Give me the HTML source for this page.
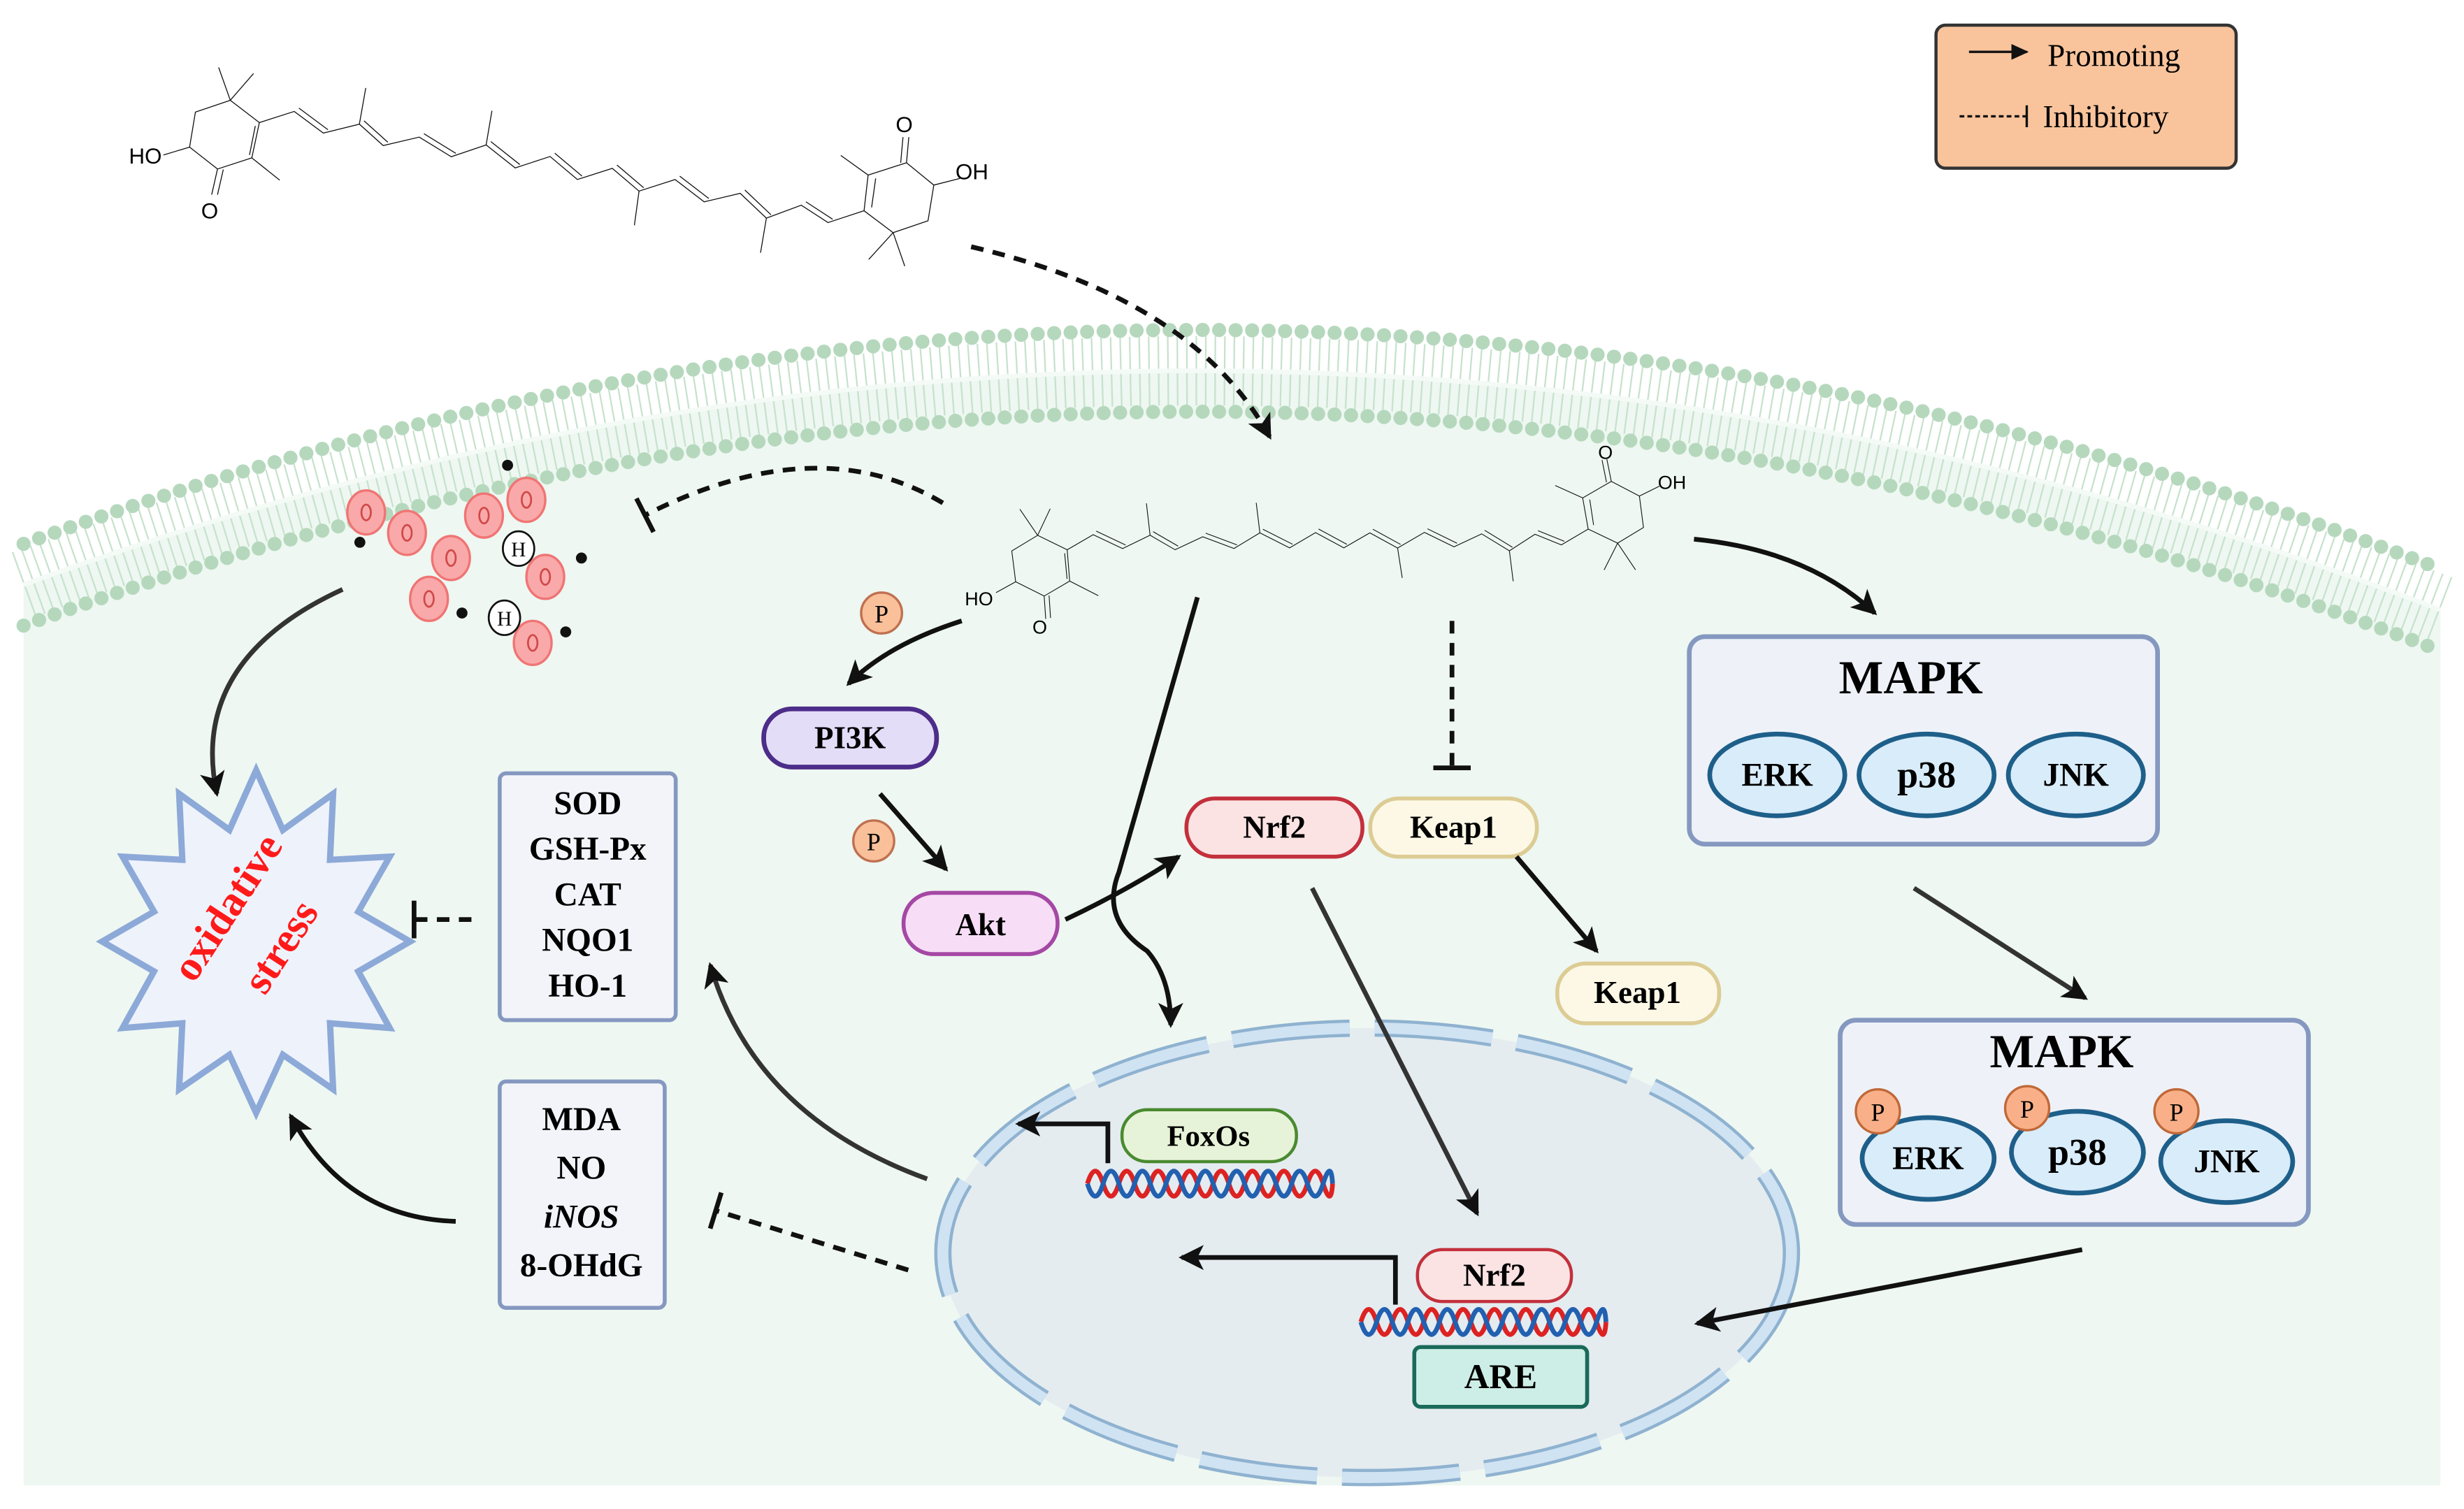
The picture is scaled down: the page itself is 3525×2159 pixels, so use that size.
<!DOCTYPE html>
<html><head><meta charset="utf-8">
<style>
html,body{margin:0;padding:0;background:#fff;}
svg{display:block;}
text{font-family:"Liberation Serif",serif;}
</style></head>
<body>
<svg width="3525" height="2159" viewBox="0 0 1568 960" preserveAspectRatio="none" xmlns="http://www.w3.org/2000/svg">
<defs>
<marker id="ah" markerUnits="userSpaceOnUse" markerWidth="22" markerHeight="22" refX="14" refY="8" orient="auto">
<path d="M0,0 L16,8 L0,16 L4,8 Z" fill="#111"/>
</marker>
<marker id="ahs" markerUnits="userSpaceOnUse" markerWidth="16" markerHeight="12" refX="10" refY="5" orient="auto">
<path d="M0,0 L11,5 L0,10 Z" fill="#111"/>
</marker>
<marker id="bar" markerUnits="userSpaceOnUse" markerWidth="6" markerHeight="24" refX="3" refY="12" orient="auto">
<rect x="1" y="0" width="3" height="24" fill="#111"/>
</marker>
<marker id="bars" markerUnits="userSpaceOnUse" markerWidth="4" markerHeight="14" refX="2" refY="7" orient="auto">
<rect x="1" y="0" width="1.5" height="14" fill="#111"/>
</marker>
</defs>

<!-- cell interior -->
<path d="M15,372 Q784,92 1553,388 L1553,945 L15,945 Z" fill="#eef7f1"/>
<!-- membrane tails -->
<path d="M15,372 Q784,92 1553,388" fill="none" stroke="#c6e2cc" stroke-width="44" stroke-dasharray="1 5"/>
<path d="M15,372 Q784,92 1553,388" fill="none" stroke="#f4faf5" stroke-width="3"/>
<!-- heads -->
<path d="M15,346 Q784,66 1553,362" fill="none" stroke="#b5d8bd" stroke-width="9" stroke-linecap="round" stroke-dasharray="0 10.5"/>
<path d="M15,398 Q784,118 1553,414" fill="none" stroke="#b5d8bd" stroke-width="9" stroke-linecap="round" stroke-dasharray="0 10.5"/>

<!-- nucleus -->
<ellipse cx="870" cy="797" rx="270" ry="143" fill="#e4ecf0"/>
<ellipse cx="870" cy="797" rx="270" ry="143" fill="none" stroke="#8fb2d0" stroke-width="11" stroke-dasharray="75 16"/>
<ellipse cx="870" cy="797" rx="270" ry="143" fill="none" stroke="#cfe3f3" stroke-width="7" stroke-dasharray="75 16"/>

<!-- legend -->
<rect x="1232" y="16" width="191" height="91" rx="6" fill="#f9c49c" stroke="#333" stroke-width="2"/>
<line x1="1253" y1="33" x2="1290" y2="33" stroke="#111" stroke-width="1.5" marker-end="url(#ahs)"/>
<text x="1303" y="42" font-size="20">Promoting</text>
<line x1="1247" y1="74" x2="1290" y2="74" stroke="#111" stroke-width="1.5" stroke-dasharray="3 2" marker-end="url(#bars)"/>
<text x="1300" y="81" font-size="20">Inhibitory</text>

<!-- top molecule -->
<g transform="matrix(0.37,0,0,0.142,67,29)" fill="none" stroke="#111" stroke-width="1.3">
<path vector-effect="non-scaling-stroke" d="M265,345 L325,295 L375,392 L437,352 L478,448 L540,410 L595,498 L655,445 L705,548 L765,497 L812,600 L872,550 L918,652 L980,600 L1030,700 L1092,662 L1137,773 L1197,715 L1243,793 L1305,740"/>
<path vector-effect="non-scaling-stroke" d="M333,280 L383,377 M445,337 L486,433 M548,395 L603,483 M663,430 L713,533 M773,482 L820,585 M880,535 L926,637 M988,585 L1038,685 M1100,647 L1145,758 M1205,700 L1251,778"/>
<path vector-effect="non-scaling-stroke" d="M437,352 L448,190 M655,445 L665,292 M918,652 L910,805 M1137,773 L1127,928"/>
<path vector-effect="non-scaling-stroke" d="M215,245 L195,98 M215,245 L255,125 M215,245 L155,298 L145,455 L193,553 L252,503 L265,345 Z M145,455 L100,490 M193,553 L183,668 M203,555 L193,668 M252,503 L300,603 M248,490 L258,360"/>
<path vector-effect="non-scaling-stroke" d="M1305,740 L1312,580 L1378,525 L1425,625 L1415,785 L1355,838 Z M1312,580 L1265,492 M1378,525 L1382,410 M1368,525 L1372,410 M1425,625 L1470,595 M1355,838 L1313,958 M1355,838 L1375,988 M1318,725 L1325,595"/>
</g>
<text x="82" y="104" font-size="14" font-family="Liberation Sans,sans-serif" style="font-family:'Liberation Sans',sans-serif">HO</text>
<text x="128" y="139" font-size="14" style="font-family:'Liberation Sans',sans-serif">O</text>
<text x="570" y="84" font-size="14" style="font-family:'Liberation Sans',sans-serif">O</text>
<text x="608" y="114" font-size="14" style="font-family:'Liberation Sans',sans-serif">OH</text>

<!-- middle molecule -->
<g transform="matrix(0.3054,-0.0587,0.0353,0.1212,586,323.5)" fill="none" stroke="#111" stroke-width="1.1">
<path vector-effect="non-scaling-stroke" d="M265,345 L325,295 L375,392 L437,352 L478,448 L540,410 L595,498 L655,445 L705,548 L765,497 L812,600 L872,550 L918,652 L980,600 L1030,700 L1092,662 L1137,773 L1197,715 L1243,793 L1305,740"/>
<path vector-effect="non-scaling-stroke" d="M333,280 L383,377 M445,337 L486,433 M548,395 L603,483 M663,430 L713,533 M773,482 L820,585 M880,535 L926,637 M988,585 L1038,685 M1100,647 L1145,758 M1205,700 L1251,778"/>
<path vector-effect="non-scaling-stroke" d="M437,352 L448,190 M655,445 L665,292 M918,652 L910,805 M1137,773 L1127,928"/>
<path vector-effect="non-scaling-stroke" d="M215,245 L195,98 M215,245 L255,125 M215,245 L155,298 L145,455 L193,553 L252,503 L265,345 Z M145,455 L100,490 M193,553 L183,668 M203,555 L193,668 M252,503 L300,603 M248,490 L258,360"/>
<path vector-effect="non-scaling-stroke" d="M1305,740 L1312,580 L1378,525 L1425,625 L1415,785 L1355,838 Z M1312,580 L1265,492 M1378,525 L1382,410 M1368,525 L1372,410 M1425,625 L1470,595 M1355,838 L1313,958 M1355,838 L1375,988 M1318,725 L1325,595"/>
</g>
<text x="614" y="385" font-size="12" style="font-family:'Liberation Sans',sans-serif">HO</text>
<text x="657" y="403" font-size="12" style="font-family:'Liberation Sans',sans-serif">O</text>
<text x="1017" y="292" font-size="12" style="font-family:'Liberation Sans',sans-serif">O</text>
<text x="1055" y="311" font-size="12" style="font-family:'Liberation Sans',sans-serif">OH</text>

<!-- ROS -->
<g fill="#f9a9a9" stroke="#f07474" stroke-width="1.5">
<ellipse cx="233" cy="326" rx="12" ry="14"/><ellipse cx="259" cy="339" rx="12" ry="14"/>
<ellipse cx="308" cy="328" rx="12" ry="14"/><ellipse cx="335" cy="318" rx="12" ry="14"/>
<ellipse cx="287" cy="355" rx="12" ry="14"/><ellipse cx="347" cy="367" rx="12" ry="14"/>
<ellipse cx="273" cy="381" rx="12" ry="14"/><ellipse cx="339" cy="409" rx="12" ry="14"/>
</g>
<g fill="none" stroke="#d04848" stroke-width="1.2">
<ellipse cx="233" cy="326" rx="3" ry="5"/><ellipse cx="259" cy="339" rx="3" ry="5"/>
<ellipse cx="308" cy="328" rx="3" ry="5"/><ellipse cx="335" cy="318" rx="3" ry="5"/>
<ellipse cx="287" cy="355" rx="3" ry="5"/><ellipse cx="347" cy="367" rx="3" ry="5"/>
<ellipse cx="273" cy="381" rx="3" ry="5"/><ellipse cx="339" cy="409" rx="3" ry="5"/>
</g>
<g fill="#fff" stroke="#111" stroke-width="1.2">
<ellipse cx="330" cy="349" rx="10" ry="11"/><ellipse cx="321" cy="393" rx="10" ry="11"/>
</g>
<text x="330" y="354" font-size="13" text-anchor="middle">H</text>
<text x="321" y="398" font-size="13" text-anchor="middle">H</text>
<g fill="#111"><circle cx="323" cy="296" r="3.5"/><circle cx="229" cy="345" r="3.5"/><circle cx="370" cy="355" r="3.5"/><circle cx="294" cy="390" r="3.5"/><circle cx="360" cy="402" r="3.5"/></g>

<!-- oxidative stress -->
<polygon points="261,599 228,618 248,654 210,651 212,693 180,671 163,708 146,671 114,693 116,651 78,654 98,618 65,599 98,580 78,545 116,547 114,505 146,528 163,490 180,528 212,505 210,547 248,545 228,580" fill="#eef2fb" stroke="#8ca9d8" stroke-width="4" stroke-linejoin="miter"/>
<text x="152" y="582" font-size="27" font-weight="bold" fill="#ff1a1a" text-anchor="middle" transform="rotate(-57 152 582)">oxidative</text>
<text x="186" y="607" font-size="27" font-weight="bold" fill="#ff1a1a" text-anchor="middle" transform="rotate(-57 186 607)">stress</text>

<!-- SOD box -->
<rect x="318" y="492" width="112" height="157" rx="4" fill="#f2f4fa" stroke="#8598c0" stroke-width="2.5"/>
<g font-size="21" font-weight="bold" text-anchor="middle">
<text x="374" y="518">SOD</text><text x="374" y="547">GSH-Px</text><text x="374" y="576">CAT</text><text x="374" y="605">NQO1</text><text x="374" y="634">HO-1</text>
</g>
<!-- MDA box -->
<rect x="318" y="688" width="105" height="144" rx="4" fill="#f2f4fa" stroke="#8598c0" stroke-width="2.5"/>
<g font-size="21" font-weight="bold" text-anchor="middle">
<text x="370" y="719">MDA</text><text x="370" y="750">NO</text><text x="370" y="781" font-style="italic">iNOS</text><text x="370" y="812">8-OHdG</text>
</g>

<!-- pills -->
<rect x="486" y="451" width="110" height="37" rx="18" fill="#e4ddf7" stroke="#4d2d8a" stroke-width="3"/>
<text x="541" y="476" font-size="20" font-weight="bold" text-anchor="middle">PI3K</text>
<rect x="575" y="568" width="98" height="39" rx="19" fill="#f7ddf5" stroke="#a548a5" stroke-width="2.5"/>
<text x="624" y="595" font-size="20" font-weight="bold" text-anchor="middle">Akt</text>
<rect x="755" y="508" width="112" height="37" rx="18" fill="#fbe3e3" stroke="#c3303c" stroke-width="2.5"/>
<text x="811" y="533" font-size="20" font-weight="bold" text-anchor="middle">Nrf2</text>
<rect x="872" y="508" width="106" height="37" rx="18" fill="#fdf8e6" stroke="#dccc94" stroke-width="2.5"/>
<text x="925" y="533" font-size="20" font-weight="bold" text-anchor="middle">Keap1</text>
<rect x="991" y="613" width="103" height="38" rx="18" fill="#fdf8e6" stroke="#dccc94" stroke-width="2.5"/>
<text x="1042" y="638" font-size="20" font-weight="bold" text-anchor="middle">Keap1</text>
<rect x="714" y="706" width="111" height="33" rx="16" fill="#e7f3d8" stroke="#4a8a30" stroke-width="2"/>
<text x="769" y="729" font-size="19" font-weight="bold" text-anchor="middle">FoxOs</text>
<rect x="902" y="795" width="98" height="33" rx="16" fill="#fbe3e3" stroke="#c3303c" stroke-width="2"/>
<text x="951" y="818" font-size="20" font-weight="bold" text-anchor="middle">Nrf2</text>
<rect x="900" y="857" width="110" height="38" rx="4" fill="#cdeee6" stroke="#1a6a5a" stroke-width="2.5"/>
<text x="955" y="883" font-size="22" font-weight="bold" text-anchor="middle">ARE</text>

<!-- DNA -->
<path d="M692,753 q5,-16 10,0 t10,0 t10,0 t10,0 t10,0 t10,0 t10,0 t10,0 t10,0 t10,0 t10,0 t10,0 t10,0 t10,0 t10,0 t6,0" fill="none" stroke="#d22" stroke-width="3"/>
<path d="M692,753 q5,16 10,0 t10,0 t10,0 t10,0 t10,0 t10,0 t10,0 t10,0 t10,0 t10,0 t10,0 t10,0 t10,0 t10,0 t10,0 t6,0" fill="none" stroke="#2260b0" stroke-width="3"/>
<path d="M866,841 q5,-16 10,0 t10,0 t10,0 t10,0 t10,0 t10,0 t10,0 t10,0 t10,0 t10,0 t10,0 t10,0 t10,0 t10,0 t10,0 t6,0" fill="none" stroke="#d22" stroke-width="3"/>
<path d="M866,841 q5,16 10,0 t10,0 t10,0 t10,0 t10,0 t10,0 t10,0 t10,0 t10,0 t10,0 t10,0 t10,0 t10,0 t10,0 t10,0 t6,0" fill="none" stroke="#2260b0" stroke-width="3"/>

<!-- P circles -->
<g fill="#f9c09a" stroke="#c07050" stroke-width="1.5">
<circle cx="561" cy="390" r="13"/><circle cx="556" cy="535" r="13"/>
</g>
<text x="561" y="396" font-size="16" text-anchor="middle">P</text>
<text x="556" y="541" font-size="16" text-anchor="middle">P</text>

<!-- MAPK boxes -->
<rect x="1075" y="405" width="298" height="132" rx="10" fill="#eef2f8" stroke="#8598c0" stroke-width="3"/>
<text x="1216" y="441" font-size="30" font-weight="bold" text-anchor="middle">MAPK</text>
<g fill="#d9ecfa" stroke="#1e5f8a" stroke-width="3">
<ellipse cx="1131" cy="493" rx="43" ry="26"/><ellipse cx="1226" cy="493" rx="43" ry="26"/><ellipse cx="1321" cy="493" rx="43" ry="26"/>
</g>
<g font-size="21" font-weight="bold" text-anchor="middle">
<text x="1131" y="500">ERK</text><text x="1226" y="501" font-size="24">p38</text><text x="1321" y="500">JNK</text>
</g>
<rect x="1171" y="649" width="298" height="130" rx="10" fill="#eef2f8" stroke="#8598c0" stroke-width="3"/>
<text x="1312" y="679" font-size="30" font-weight="bold" text-anchor="middle">MAPK</text>
<g fill="#d9ecfa" stroke="#1e5f8a" stroke-width="3">
<ellipse cx="1227" cy="737" rx="42" ry="26"/><ellipse cx="1322" cy="733" rx="42" ry="26"/><ellipse cx="1417" cy="739" rx="42" ry="26"/>
</g>
<g font-size="21" font-weight="bold" text-anchor="middle">
<text x="1227" y="744">ERK</text><text x="1322" y="741" font-size="24">p38</text><text x="1417" y="746">JNK</text>
</g>
<g fill="#f9b088" stroke="#c06838" stroke-width="1.5">
<circle cx="1195" cy="707" r="14"/><circle cx="1290" cy="705" r="14"/><circle cx="1385" cy="707" r="14"/>
</g>
<g font-size="16" text-anchor="middle"><text x="1195" y="713">P</text><text x="1290" y="711">P</text><text x="1385" y="713">P</text></g>

<!-- connectors -->
<g fill="none" stroke="#111" stroke-width="3">
<path d="M618,157 Q760,190 808,278" stroke-dasharray="8 6" marker-end="url(#ah)"/>
<path d="M600,320 Q520,272 410,328" stroke-dasharray="8 6" marker-end="url(#bar)"/>
<path d="M218,375 Q120,420 138,505" stroke="#333" marker-end="url(#ah)"/>
<path d="M612,395 Q565,410 540,435" marker-end="url(#ah)"/>
<path d="M560,505 L602,553" marker-end="url(#ah)"/>
<path d="M678,585 Q720,565 750,545" marker-end="url(#ah)"/>
<path d="M762,380 L712,555 Q700,585 730,605 Q745,622 745,652" marker-end="url(#ah)"/>
<path d="M924,395 L924,489" stroke-dasharray="8 6" marker-end="url(#bar)"/>
<path d="M965,545 L1016,605" marker-end="url(#ah)"/>
<path d="M835,565 L940,772" stroke="#333" marker-end="url(#ah)"/>
<path d="M1078,343 Q1150,350 1193,390" marker-end="url(#ah)"/>
<path d="M1218,565 L1327,635" stroke="#333" marker-end="url(#ah)"/>
<path d="M1325,795 L1080,842" marker-end="url(#ah)"/>
<path d="M590,750 Q480,710 452,614" stroke="#333" marker-end="url(#ah)"/>
<path d="M578,808 L455,770" stroke-dasharray="8 6" marker-end="url(#bar)"/>
<path d="M300,585 L263,585" stroke-dasharray="8 6" marker-end="url(#bar)"/>
<path d="M290,777 Q220,775 185,710" marker-end="url(#ah)"/>
<path d="M705,740 L705,715 L648,715" marker-end="url(#ah)"/>
<path d="M888,830 L888,800 L752,800" marker-end="url(#ah)"/>
</g>
</svg>
</body></html>
